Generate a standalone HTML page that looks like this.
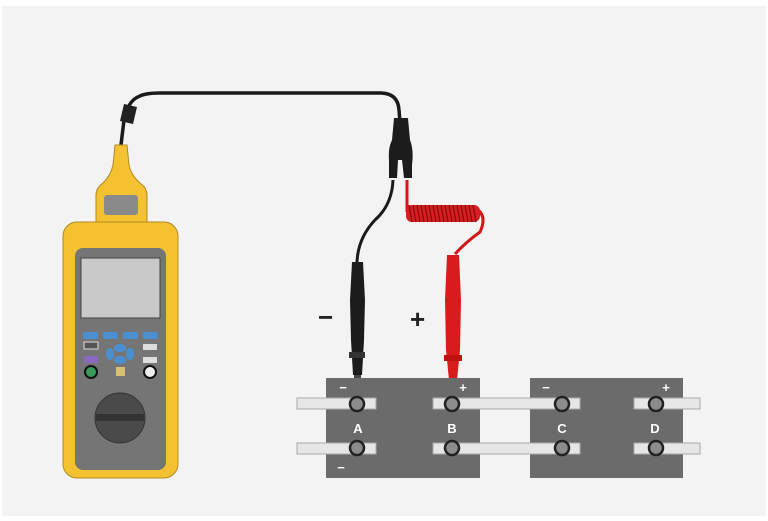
<!DOCTYPE html>
<html><head><style>
body{margin:0;background:#fff}
svg{display:block}
text{font-family:"Liberation Sans",sans-serif;font-weight:bold}
</style></head><body>
<svg width="768" height="521" viewBox="0 0 768 521">
<rect x="0" y="0" width="768" height="521" fill="#fff"/>
<rect x="2" y="6" width="764" height="510" fill="#f3f3f3"/>
<!-- cable -->
<path d="M121 145 L124 120 Q128 100 140 96 Q146 93 160 93 L380 93 Q398 93 399 110 L400 122" stroke="#1a1a1a" stroke-width="3.5" fill="none"/>
<path d="M124 104 L137 107 L133 124 L120 121 Z" fill="#222"/>
<!-- Y connector -->
<path d="M394 118 L408 118 L410 140 Q414 150 412 165 L412 178 L404 178 L402 160 L398 160 L397 178 L389 178 L389 160 Q388 148 392 140 Z" fill="#1c1c1c"/>
<!-- black lead -->
<path d="M393 180 Q392 205 375 220 Q358 238 357 262" stroke="#1a1a1a" stroke-width="3" fill="none"/>
<path d="M352 262 L363 262 L365 300 L364 340 L362 375 L353 375 L351 340 L350 300 Z" fill="#1c1c1c"/>
<rect x="349" y="352" width="16" height="6" fill="#333"/>
<rect x="354" y="375" width="7" height="15" fill="#444"/>
<!-- red lead -->
<path d="M407 180 L407 212" stroke="#d01818" stroke-width="3" fill="none"/>
<path d="M475 208 Q488 215 480 232 Q466 242 455 254" stroke="#d01818" stroke-width="3" fill="none"/>
<rect x="406" y="205" width="74" height="17" rx="6" fill="#d42020"/>
<g stroke="#8a0a0a" stroke-width="1.2">
<path d="M409 205 l3 17 M413 205 l3 17 M417 205 l3 17 M421 205 l3 17 M425 205 l3 17 M429 205 l3 17 M433 205 l3 17 M437 205 l3 17 M441 205 l3 17 M445 205 l3 17 M449 205 l3 17 M453 205 l3 17 M457 205 l3 17 M461 205 l3 17 M465 205 l3 17 M469 205 l3 17 M473 205 l3 17"/>
</g>
<path d="M447 255 L459 255 L461 300 L460 350 L457 380 L449 380 L446 350 L445 300 Z" fill="#d81c1c"/>
<rect x="444" y="355" width="18" height="6" fill="#c01010"/>
<rect x="449" y="380" width="7" height="12" fill="#c01010"/>
<text x="318" y="326" font-size="26" fill="#222">−</text>
<text x="410" y="328" font-size="26" fill="#222">+</text>
<!-- batteries -->
<rect x="326" y="378" width="154" height="100" fill="#6b6b6b"/>
<rect x="530" y="378" width="153" height="100" fill="#6b6b6b"/>
<g fill="#e6e6e6" stroke="#aaa" stroke-width="1">
<rect x="297" y="398" width="79" height="11"/>
<rect x="433" y="398" width="147" height="11"/>
<rect x="634" y="398" width="66" height="11"/>
<rect x="297" y="443" width="79" height="11"/>
<rect x="433" y="443" width="147" height="11"/>
<rect x="634" y="443" width="66" height="11"/>
</g>
<g fill="#8c8c8c" stroke="#222" stroke-width="2.5">
<circle cx="357" cy="404" r="7"/><circle cx="452" cy="404" r="7"/><circle cx="562" cy="404" r="7"/><circle cx="656" cy="404" r="7"/>
<circle cx="357" cy="448" r="7"/><circle cx="452" cy="448" r="7"/><circle cx="562" cy="448" r="7"/><circle cx="656" cy="448" r="7"/>
</g>
<g fill="#fff" font-size="13" text-anchor="middle">
<text x="358" y="433">A</text><text x="452" y="433">B</text><text x="562" y="433">C</text><text x="655" y="433">D</text>
<text x="343" y="392">−</text><text x="463" y="392">+</text><text x="546" y="392">−</text><text x="666" y="392">+</text>
<text x="341" y="472">−</text>
</g>
<!-- meter -->
<path d="M115 145 L127 145 L129 165 Q131 175 140 183 Q147 188 147 195 L147 222 L96 222 L96 195 Q96 188 103 183 Q111 175 113 165 Z" fill="#f4c230" stroke="#b08a20"/>
<rect x="104" y="195" width="34" height="20" rx="3" fill="#8a8a8a"/>
<rect x="63" y="222" width="115" height="256" rx="14" fill="#f4c230" stroke="#b08a20"/>
<rect x="75" y="248" width="91" height="222" rx="8" fill="#757575"/>
<rect x="81" y="258" width="79" height="60" fill="#c9c9c9" stroke="#444"/>
<g fill="#4a90d0"><rect x="83" y="332" width="15" height="7" rx="2"/><rect x="103" y="332" width="15" height="7" rx="2"/><rect x="123" y="332" width="15" height="7" rx="2"/><rect x="143" y="332" width="15" height="7" rx="2"/>
<ellipse cx="120" cy="348" rx="6" ry="4"/><ellipse cx="120" cy="360" rx="6" ry="4"/><ellipse cx="110" cy="354" rx="4" ry="6"/><ellipse cx="130" cy="354" rx="4" ry="6"/></g>
<rect x="84" y="342" width="14" height="7" fill="#555" stroke="#ddd"/>
<rect x="84" y="356" width="14" height="7" fill="#8a6ac0"/>
<rect x="143" y="344" width="14" height="6" fill="#ddd"/>
<rect x="143" y="357" width="14" height="6" fill="#ddd"/>
<circle cx="91" cy="372" r="6" fill="#3a9a5a" stroke="#111" stroke-width="2"/>
<circle cx="150" cy="372" r="6" fill="#eee" stroke="#111" stroke-width="2"/>
<rect x="116" y="367" width="9" height="9" fill="#d8c070"/>
<circle cx="120" cy="418" r="25" fill="#4a4a4a" stroke="#333"/>
<rect x="96" y="414" width="48" height="7" fill="#333"/>
</svg>
</body></html>
